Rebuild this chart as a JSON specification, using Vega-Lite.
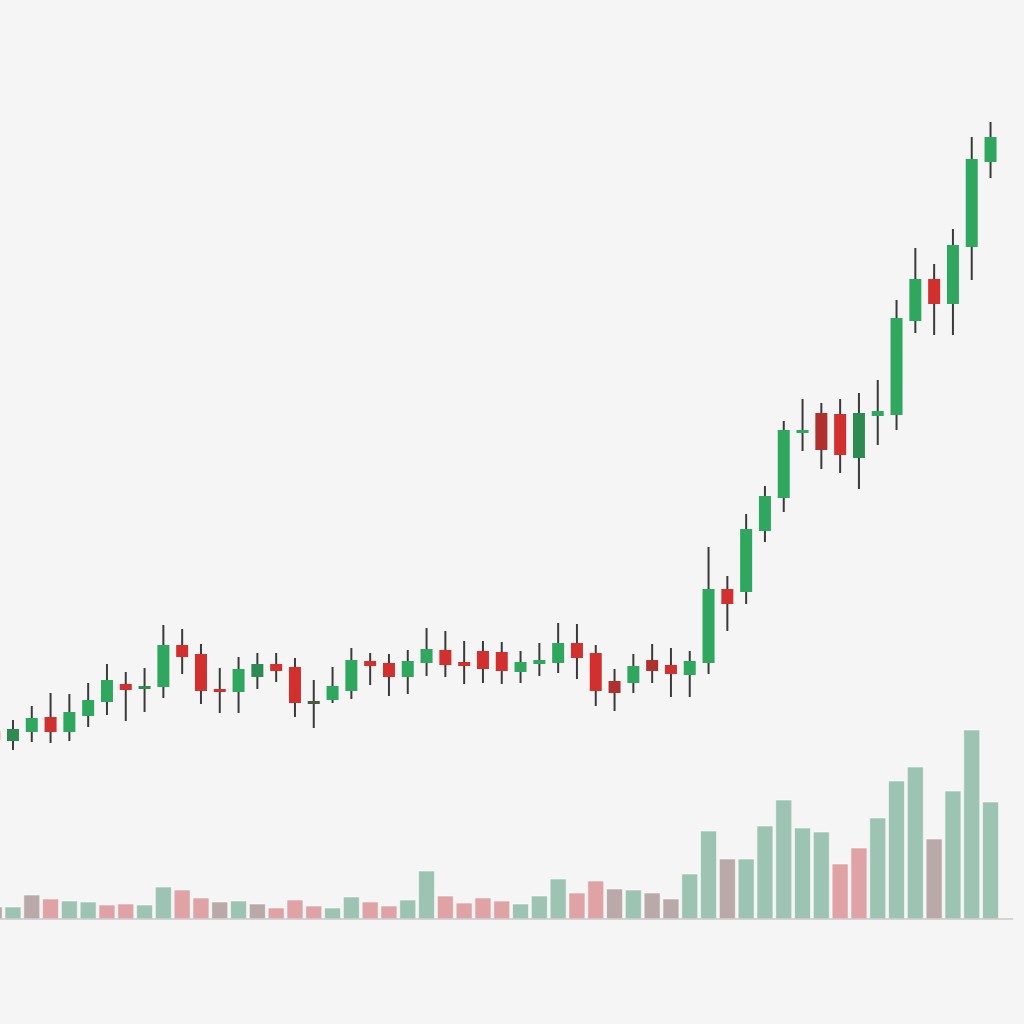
{
  "$schema": "https://vega.github.io/schema/vega-lite/v6.json",
  "width": 1024,
  "height": 1024,
  "autosize": {"type": "none"},
  "padding": 0,
  "background": "#f5f5f5",
  "config": {"view": {"stroke": null}},
  "data": {"values": [
    {"i":0,"o":29.3,"c":28.4,"h":29.8,"l":27.8,"v":12,"tone":"down","vtone":"flat"},
    {"i":1,"o":28.3,"c":29.5,"h":30.4,"l":27.4,"v":12,"tone":"upDark","vtone":"up"},
    {"i":2,"o":29.2,"c":30.6,"h":31.8,"l":28.2,"v":24,"tone":"up","vtone":"flat"},
    {"i":3,"o":30.7,"c":29.2,"h":33.1,"l":28.1,"v":20,"tone":"down","vtone":"down"},
    {"i":4,"o":29.2,"c":31.2,"h":33.0,"l":28.3,"v":18,"tone":"up","vtone":"up"},
    {"i":5,"o":30.8,"c":32.4,"h":34.1,"l":29.7,"v":17,"tone":"up","vtone":"up"},
    {"i":6,"o":32.2,"c":34.4,"h":36.0,"l":30.9,"v":14,"tone":"up","vtone":"down"},
    {"i":7,"o":34.0,"c":33.4,"h":35.2,"l":30.3,"v":15,"tone":"down","vtone":"down"},
    {"i":8,"o":33.5,"c":33.8,"h":35.6,"l":31.2,"v":14,"tone":"upDark","vtone":"up"},
    {"i":9,"o":33.7,"c":37.9,"h":39.9,"l":32.6,"v":32,"tone":"up","vtone":"up"},
    {"i":10,"o":37.9,"c":36.7,"h":39.5,"l":35.0,"v":29,"tone":"down","vtone":"down"},
    {"i":11,"o":37.0,"c":33.3,"h":38.0,"l":32.0,"v":21,"tone":"down","vtone":"down"},
    {"i":12,"o":33.5,"c":33.2,"h":35.6,"l":31.1,"v":17,"tone":"down","vtone":"flat"},
    {"i":13,"o":33.2,"c":35.5,"h":36.7,"l":31.1,"v":18,"tone":"up","vtone":"up"},
    {"i":14,"o":34.7,"c":36.0,"h":37.1,"l":33.5,"v":15,"tone":"upDark","vtone":"flat"},
    {"i":15,"o":36.0,"c":35.3,"h":37.1,"l":34.2,"v":11,"tone":"down","vtone":"down"},
    {"i":16,"o":35.7,"c":32.1,"h":36.6,"l":30.7,"v":19,"tone":"down","vtone":"down"},
    {"i":17,"o":32.3,"c":32.0,"h":34.4,"l":29.6,"v":13,"tone":"doji","vtone":"down"},
    {"i":18,"o":32.4,"c":33.8,"h":35.7,"l":32.1,"v":11,"tone":"up","vtone":"up"},
    {"i":19,"o":33.3,"c":36.4,"h":37.6,"l":32.5,"v":22,"tone":"up","vtone":"up"},
    {"i":20,"o":36.3,"c":35.8,"h":37.1,"l":33.9,"v":17,"tone":"down","vtone":"down"},
    {"i":21,"o":36.1,"c":34.7,"h":37.0,"l":32.8,"v":13,"tone":"down","vtone":"down"},
    {"i":22,"o":34.7,"c":36.3,"h":37.4,"l":33.0,"v":19,"tone":"up","vtone":"up"},
    {"i":23,"o":36.1,"c":37.5,"h":39.6,"l":34.8,"v":48,"tone":"up","vtone":"up"},
    {"i":24,"o":37.4,"c":35.9,"h":39.3,"l":34.7,"v":23,"tone":"down","vtone":"down"},
    {"i":25,"o":36.2,"c":35.8,"h":38.3,"l":34.0,"v":16,"tone":"down","vtone":"down"},
    {"i":26,"o":37.3,"c":35.5,"h":38.3,"l":34.1,"v":21,"tone":"down","vtone":"down"},
    {"i":27,"o":37.2,"c":35.3,"h":38.2,"l":34.0,"v":18,"tone":"down","vtone":"down"},
    {"i":28,"o":35.2,"c":36.2,"h":37.3,"l":34.1,"v":15,"tone":"up","vtone":"up"},
    {"i":29,"o":36.0,"c":36.4,"h":38.1,"l":34.8,"v":23,"tone":"up","vtone":"up"},
    {"i":30,"o":36.1,"c":38.1,"h":40.1,"l":35.1,"v":40,"tone":"up","vtone":"up"},
    {"i":31,"o":38.1,"c":36.6,"h":40.0,"l":34.5,"v":26,"tone":"down","vtone":"down"},
    {"i":32,"o":37.1,"c":33.3,"h":37.9,"l":31.8,"v":38,"tone":"down","vtone":"down"},
    {"i":33,"o":34.3,"c":33.1,"h":35.5,"l":31.3,"v":30,"tone":"downDark","vtone":"flat"},
    {"i":34,"o":34.1,"c":35.8,"h":37.0,"l":33.1,"v":29,"tone":"up","vtone":"up"},
    {"i":35,"o":36.4,"c":35.3,"h":38.0,"l":34.1,"v":26,"tone":"downDark","vtone":"flat"},
    {"i":36,"o":35.9,"c":35.0,"h":37.6,"l":32.7,"v":20,"tone":"down","vtone":"flat"},
    {"i":37,"o":34.9,"c":36.3,"h":37.3,"l":32.7,"v":45,"tone":"up","vtone":"up"},
    {"i":38,"o":36.1,"c":43.5,"h":47.7,"l":35.0,"v":88,"tone":"up","vtone":"up"},
    {"i":39,"o":43.5,"c":42.0,"h":44.8,"l":39.3,"v":60,"tone":"down","vtone":"flat"},
    {"i":40,"o":43.2,"c":49.5,"h":51.0,"l":42.0,"v":60,"tone":"up","vtone":"up"},
    {"i":41,"o":49.3,"c":52.8,"h":53.8,"l":48.2,"v":93,"tone":"up","vtone":"up"},
    {"i":42,"o":52.6,"c":59.4,"h":60.3,"l":51.2,"v":119,"tone":"up","vtone":"up"},
    {"i":43,"o":59.1,"c":59.4,"h":62.5,"l":57.3,"v":91,"tone":"up","vtone":"up"},
    {"i":44,"o":61.1,"c":57.4,"h":62.1,"l":55.5,"v":87,"tone":"downDark","vtone":"up"},
    {"i":45,"o":61.0,"c":56.9,"h":62.5,"l":55.1,"v":55,"tone":"down","vtone":"down"},
    {"i":46,"o":56.6,"c":61.1,"h":63.1,"l":53.5,"v":71,"tone":"upDark","vtone":"down"},
    {"i":47,"o":60.8,"c":61.3,"h":64.4,"l":57.9,"v":101,"tone":"up","vtone":"up"},
    {"i":48,"o":60.9,"c":70.6,"h":72.4,"l":59.4,"v":138,"tone":"up","vtone":"up"},
    {"i":49,"o":70.3,"c":74.5,"h":77.6,"l":69.1,"v":152,"tone":"up","vtone":"up"},
    {"i":50,"o":74.5,"c":72.0,"h":76.0,"l":68.9,"v":80,"tone":"down","vtone":"flat"},
    {"i":51,"o":72.0,"c":77.9,"h":79.5,"l":68.9,"v":128,"tone":"up","vtone":"up"},
    {"i":52,"o":77.7,"c":86.5,"h":88.7,"l":74.4,"v":189,"tone":"up","vtone":"up"},
    {"i":53,"o":86.2,"c":88.7,"h":90.2,"l":84.6,"v":117,"tone":"up","vtone":"up"}
  ]},
  "layer": [
    {
      "layer": [
        {
          "mark": {"type": "bar", "size": 16, "stroke": "#ffffff", "strokeWidth": 0.8, "strokeOpacity": 0.7},
          "encoding": {
            "x": {"field": "i", "type": "quantitative", "axis": null, "scale": {"domain": [0.31, 54.78], "nice": false, "zero": false, "padding": 0}},
            "y": {"field": "v", "type": "quantitative", "axis": null, "scale": {"domain": [-105, 919], "nice": false, "zero": false}},
            "color": {"field": "vtone", "type": "nominal", "legend": null, "scale": {"domain": ["up", "down", "flat"], "range": ["#9dc4b3", "#dfa2a5", "#b9aaa9"]}}
          }
        },
        {
          "data": {"values": [{"a": 0.31, "b": 54.2, "z": 0}]},
          "mark": {"type": "rule", "color": "#c8c8c8", "strokeWidth": 1.5},
          "encoding": {
            "x": {"field": "a", "type": "quantitative", "axis": null, "scale": {"domain": [0.31, 54.78], "nice": false, "zero": false, "padding": 0}},
            "x2": {"field": "b"},
            "y": {"field": "z", "type": "quantitative", "axis": null}
          }
        }
      ]
    },
    {
      "layer": [
        {
          "mark": {"type": "rule", "color": "#3a3a3a", "strokeWidth": 2},
          "encoding": {
            "x": {"field": "i", "type": "quantitative", "axis": null, "scale": {"domain": [0.31, 54.78], "nice": false, "zero": false, "padding": 0}},
            "y": {"field": "l", "type": "quantitative", "axis": null, "scale": {"domain": [0, 102.4], "nice": false, "zero": false}},
            "y2": {"field": "h"}
          }
        },
        {
          "mark": {"type": "bar", "size": 12},
          "encoding": {
            "x": {"field": "i", "type": "quantitative", "axis": null, "scale": {"domain": [0.31, 54.78], "nice": false, "zero": false, "padding": 0}},
            "y": {"field": "o", "type": "quantitative", "axis": null},
            "y2": {"field": "c"},
            "color": {"field": "tone", "type": "nominal", "legend": null, "scale": {"domain": ["up", "upDark", "down", "downDark", "doji"], "range": ["#2fa75f", "#2d8a51", "#d1302f", "#b03030", "#4d5742"]}}
          }
        }
      ]
    }
  ],
  "resolve": {"scale": {"y": "independent", "color": "independent"}}
}
